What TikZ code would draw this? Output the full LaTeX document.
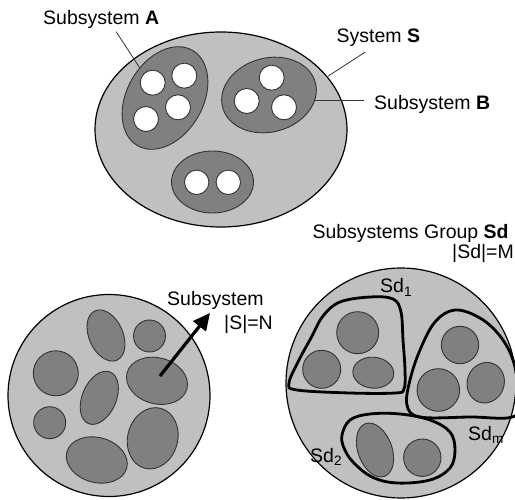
\documentclass[tikz,border=0pt]{standalone}
\usepackage{fontspec}
\setmainfont{Liberation Sans}
\usetikzlibrary{arrows.meta}
\definecolor{sslight}{HTML}{C0C0C0}
\definecolor{ssdark}{HTML}{808080}
\definecolor{ssink}{HTML}{333333}
\tikzset{
  ss text/.style={font=\fontsize{19.5}{23}\selectfont, text=black, inner sep=0pt, anchor=base west},
  ss system/.style={draw=black, line width=1.2pt, fill=sslight},
  ss sub/.style={draw=ssink, line width=0.9pt, fill=ssdark},
  ss hole/.style={draw=ssink, line width=0.9pt, fill=white},
  ss group/.style={draw=black, line width=2.8pt, smooth cycle, tension=0.6},
  ss leader/.style={draw=ssink, line width=0.8pt},
  ss arrow/.style={-{Triangle[length=17pt,width=16pt]}, line width=3.2pt, draw=black}
}

\begin{document}
\begin{tikzpicture}[x=1pt, y=-1pt]
  \useasboundingbox (0,0) rectangle (515,500);
  % top: system S with its subsystems
  \draw[ss system] (221,129.5) ellipse [x radius=126pt, y radius=97.5pt];
  \draw[ss sub] (165,98) ellipse [x radius=55pt, y radius=38pt, rotate=60];
  \draw[ss sub] (269,95) ellipse [x radius=48pt, y radius=37pt, rotate=15];
  \draw[ss sub] (212.5,182) ellipse [x radius=41pt, y radius=31pt];
  \draw[ss hole] (152.7,82.7) circle [radius=12.5pt];
  \draw[ss hole] (184.3,75.7) circle [radius=12.5pt];
  \draw[ss hole] (178,107.3) circle [radius=12.5pt];
  \draw[ss hole] (146,119) circle [radius=12.5pt];
  \draw[ss hole] (271.7,77.7) circle [radius=12.5pt];
  \draw[ss hole] (246.7,101) circle [radius=12.5pt];
  \draw[ss hole] (284,107.3) circle [radius=12.5pt];
  \draw[ss hole] (196.7,182.3) circle [radius=12.2pt];
  \draw[ss hole] (228.3,182.3) circle [radius=12.2pt];

  \node[ss text] (subsysA) at (43,24.5) {Subsystem \textbf{A}};
  \node[ss text] (systemS) at (336.5,42.7) {System \textbf{S}};
  \node[ss text] (subsysB) at (374,110) {Subsystem \textbf{B}};
  \coordinate (edgeA) at (140,68.3);
  \coordinate (edgeS) at (328.3,76);
  \coordinate (edgeB) at (315,100.7);
  \coordinate (endB) at (364,100.7);
  \draw[ss leader] ([xshift=15pt,yshift=-3pt]subsysA.south) -- (edgeA);
  \draw[ss leader] ([xshift=-13pt,yshift=-5pt]systemS.south) -- (edgeS);
  \draw[ss leader] (edgeB) -- (endB);

  % bottom left: N subsystems
  \draw[ss system] (109,395.5) circle [radius=101pt];
  \draw[ss sub] (106,335.5) ellipse [x radius=27pt, y radius=17pt, rotate=-66];
  \draw[ss sub] (149.5,336) circle [radius=16pt];
  \draw[ss sub] (55.8,373.3) circle [radius=22.5pt];
  \draw[ss sub] (157,380.8) ellipse [x radius=31pt, y radius=23pt, rotate=-15];
  \draw[ss sub] (99.3,397.8) ellipse [x radius=28pt, y radius=17pt, rotate=67];
  \draw[ss sub] (49.7,422.7) circle [radius=16pt];
  \draw[ss sub] (96.8,460) ellipse [x radius=31pt, y radius=22.5pt, rotate=-15];
  \draw[ss sub] (152.7,438.3) ellipse [x radius=31pt, y radius=25pt, rotate=75];

  \node[ss text] (subsysN) at (167,306) {Subsystem};
  \node[ss text] (sizeN) at (224,330) {|S|=N};
  \coordinate (arrowfoot) at (160,376);
  \coordinate (arrowtip) at (210,313);
  \draw[ss arrow] (arrowfoot) -- (arrowtip);

  % bottom right: subsystems grouped
  \draw[ss system] (401,383) circle [radius=115pt];
  \draw[ss group] plot coordinates {(323,316) (340,302) (370,297) (393,299) (401,312) (403,340)
    (405,370) (404,389) (395,393) (350,393) (297,390) (289,383) (299,360) (311,338)};
  \draw[ss group] plot coordinates {(455,310) (480,318) (500,336) (513,360) (518,390) (515,416)
    (470,417) (420,417) (407,405) (410,380) (420,350) (435,322)};
  \draw[ss group] plot coordinates {(342,435) (350,420) (370,414) (400,414) (430,420) (450,432)
    (455,450) (450,468) (430,480) (397,483) (372,477) (353,462) (344,448)};
  \draw[ss sub] (357.7,332.7) circle [radius=21pt];
  \draw[ss sub] (321.7,369.3) circle [radius=19pt];
  \draw[ss sub] (373.3,372.7) ellipse [x radius=20.5pt, y radius=15.5pt, rotate=-5];
  \draw[ss sub] (460,345) circle [radius=18.7pt];
  \draw[ss sub] (438.3,390) circle [radius=21.3pt];
  \draw[ss sub] (485.7,382.7) ellipse [x radius=20.5pt, y radius=18.5pt, rotate=70];
  \draw[ss sub] (375,450) ellipse [x radius=28pt, y radius=17pt, rotate=-70];
  \draw[ss sub] (422.3,457.7) circle [radius=18.7pt];

  \node[ss text] (groupSd) at (312.3,238.5) {Subsystems Group \textbf{Sd}};
  \node[ss text, anchor=base east] (sizeM) at (514,259) {|Sd|=M};
  \node[ss text] (sdOne) at (380,293) {Sd\textsubscript{1}};
  \node[ss text] (sdTwo) at (310,462) {Sd\textsubscript{2}};
  \node[ss text] (sdM) at (468,440) {Sd\textsubscript{m}};
\end{tikzpicture}
\end{document}
